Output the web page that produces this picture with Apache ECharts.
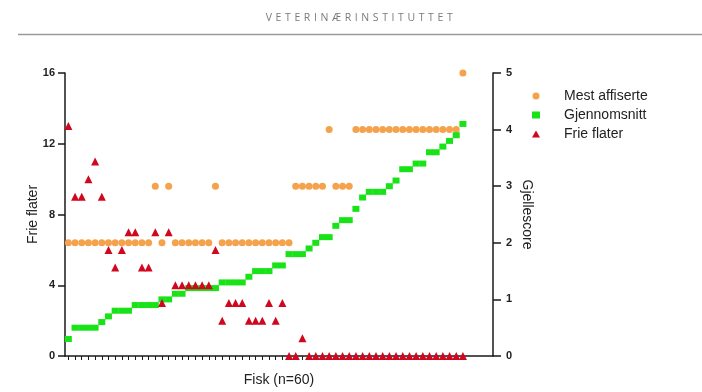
<!DOCTYPE html>
<html>
<head>
<meta charset="utf-8">
<script src="https://cdn.jsdelivr.net/npm/echarts@6/dist/echarts.min.js"></script>
<style>
  html, body { margin: 0; padding: 0; background: #fff; }
  #wrap { position: relative; width: 702px; height: 392px; }
  #chart { position: absolute; left: 0; top: 0; width: 702px; height: 392px; }
  #hdr { position: absolute; left: 0; top: 10px; width: 702px; text-align: center;
         padding-left: 20px; box-sizing: border-box;
         font-family: "Open Sans", "DejaVu Sans", sans-serif; font-size: 10.5px;
         letter-spacing: 3.6px; color: #7a7a7a; z-index: 2; }
</style>
</head>
<body>
<div id="wrap">
  <div id="chart"></div>
  <div id="hdr">VETERINÆRINSTITUTTET</div>
</div>
<script>
// Fish (n=60)
const fish = ["1","2","3","4","5","6","7","8","9","10","11","12","13","14","15","16","17","18","19","20",
              "21","22","23","24","25","26","27","28","29","30","31","32","33","34","35","36","37","38","39","40",
              "41","42","43","44","45","46","47","48","49","50","51","52","53","54","55","56","57","58","59","60"];
// Mest affiserte (gill score, right axis)
const mestAffiserte = [2,2,2,2,2,2,2,2,2,2, 2,2,2,3,2,3,2,2,2,2,
                       2,2,3,2,2,2,2,2,2,2, 2,2,2,2,3,3,3,3,3,4,
                       3,3,3,4,4,4,4,4,4,4, 4,4,4,4,4,4,4,4,4,5];
// Gjennomsnitt (gill score, right axis)
const gjennomsnitt = [0.3,0.5,0.5,0.5,0.5,0.6,0.7,0.8,0.8,0.8, 0.9,0.9,0.9,0.9,1.0,1.0,1.1,1.1,1.2,1.2,
                      1.2,1.2,1.2,1.3,1.3,1.3,1.3,1.4,1.5,1.5, 1.5,1.6,1.6,1.8,1.8,1.8,1.9,2.0,2.1,2.1,
                      2.3,2.4,2.4,2.6,2.8,2.9,2.9,2.9,3.0,3.1, 3.3,3.3,3.4,3.4,3.6,3.6,3.7,3.8,3.9,4.1];
// Frie flater (left axis)
const frieFlater = [13,9,9,10,11,9,6,5,6,7, 7,5,5,7,3,7,4,4,4,4,
                    4,4,6,2,3,3,3,2,2,2, 3,2,3,0,0,1,0,0,0,0,
                    0,0,0,0,0,0,0,0,0,0, 0,0,0,0,0,0,0,0,0,0];
const leftTicks = [0, 4, 8, 12, 16];
const rightTicks = [0, 1, 2, 3, 4, 5];

const chart = echarts.init(document.getElementById('chart'), null, { renderer: 'canvas' });
const axisColor = '#1a1a1a';
const font = 'Arial, "Liberation Sans", sans-serif';
const cats = fish.concat(["", "", "", ""]);

chart.setOption({
  animation: false,
  backgroundColor: '#fff',
  graphic: [{
    type: 'line', shape: { x1: 18, y1: 34.5, x2: 702, y2: 34.5 },
    style: { stroke: '#9a9a9a', lineWidth: 1.5 }
  }],
  legend: {
    orient: 'vertical', left: 527, top: 83, itemWidth: 8, itemHeight: 7, itemGap: 3,
    textStyle: { fontFamily: font, fontSize: 14, color: '#222', padding: [0, 0, 0, 19], lineHeight: 16 },
    data: ['Mest affiserte', 'Gjennomsnitt', 'Frie flater']
  },
  grid: { left: 65, right: 209, top: 73, bottom: 34, containLabel: false },
  xAxis: {
    type: 'category', data: cats, boundaryGap: true,
    name: 'Fisk (n=60)', nameLocation: 'middle', nameGap: 17,
    nameTextStyle: { fontFamily: font, fontSize: 14, color: '#222' },
    axisLine: { lineStyle: { color: axisColor, width: 1.5 } },
    axisTick: { show: true, alignWithLabel: true, interval: function (i) { return i < fish.length; },
                length: 4, lineStyle: { color: axisColor, width: 1 } },
    axisLabel: { show: false },
    splitLine: { show: false }
  },
  yAxis: [{
    type: 'value', min: leftTicks[0], max: leftTicks[leftTicks.length - 1], interval: 4,
    position: 'left',
    name: 'Frie flater', nameLocation: 'middle', nameGap: 25, nameMoveOverlap: false,
    nameTextStyle: { fontFamily: font, fontSize: 14, color: '#222' },
    axisLine: { show: true, lineStyle: { color: axisColor, width: 1.5 } },
    axisTick: { show: true, length: 7, lineStyle: { color: axisColor, width: 1.5 } },
    axisLabel: { fontFamily: font, fontSize: 11, fontWeight: 'bold', color: '#222', margin: 10 },
    splitLine: { show: false }
  }, {
    type: 'value', min: rightTicks[0], max: rightTicks[rightTicks.length - 1], interval: 1,
    position: 'right',
    name: 'Gjellescore', nameLocation: 'middle', nameGap: 27, nameRotate: -90, nameMoveOverlap: false,
    nameTextStyle: { fontFamily: font, fontSize: 14, color: '#222' },
    axisLine: { show: true, lineStyle: { color: axisColor, width: 1.5 } },
    axisTick: { show: true, length: 8, lineStyle: { color: axisColor, width: 1.5 } },
    axisLabel: { fontFamily: font, fontSize: 11, fontWeight: 'bold', color: '#222', margin: 13 },
    splitLine: { show: false }
  }],
  series: [{
    name: 'Mest affiserte', type: 'scatter', yAxisIndex: 1, data: mestAffiserte,
    symbol: 'circle', symbolSize: 7, clip: false,
    itemStyle: { color: '#f4a24c', opacity: 1 }
  }, {
    name: 'Gjennomsnitt', type: 'scatter', yAxisIndex: 1, data: gjennomsnitt,
    symbol: 'rect', symbolSize: [7, 6], clip: false,
    itemStyle: { color: '#17e317', opacity: 1 }
  }, {
    name: 'Frie flater', type: 'scatter', yAxisIndex: 0, data: frieFlater,
    symbol: 'triangle', symbolSize: 8, clip: false,
    itemStyle: { color: '#d0071e', opacity: 1 }
  }]
});
</script>
</body>
</html>
